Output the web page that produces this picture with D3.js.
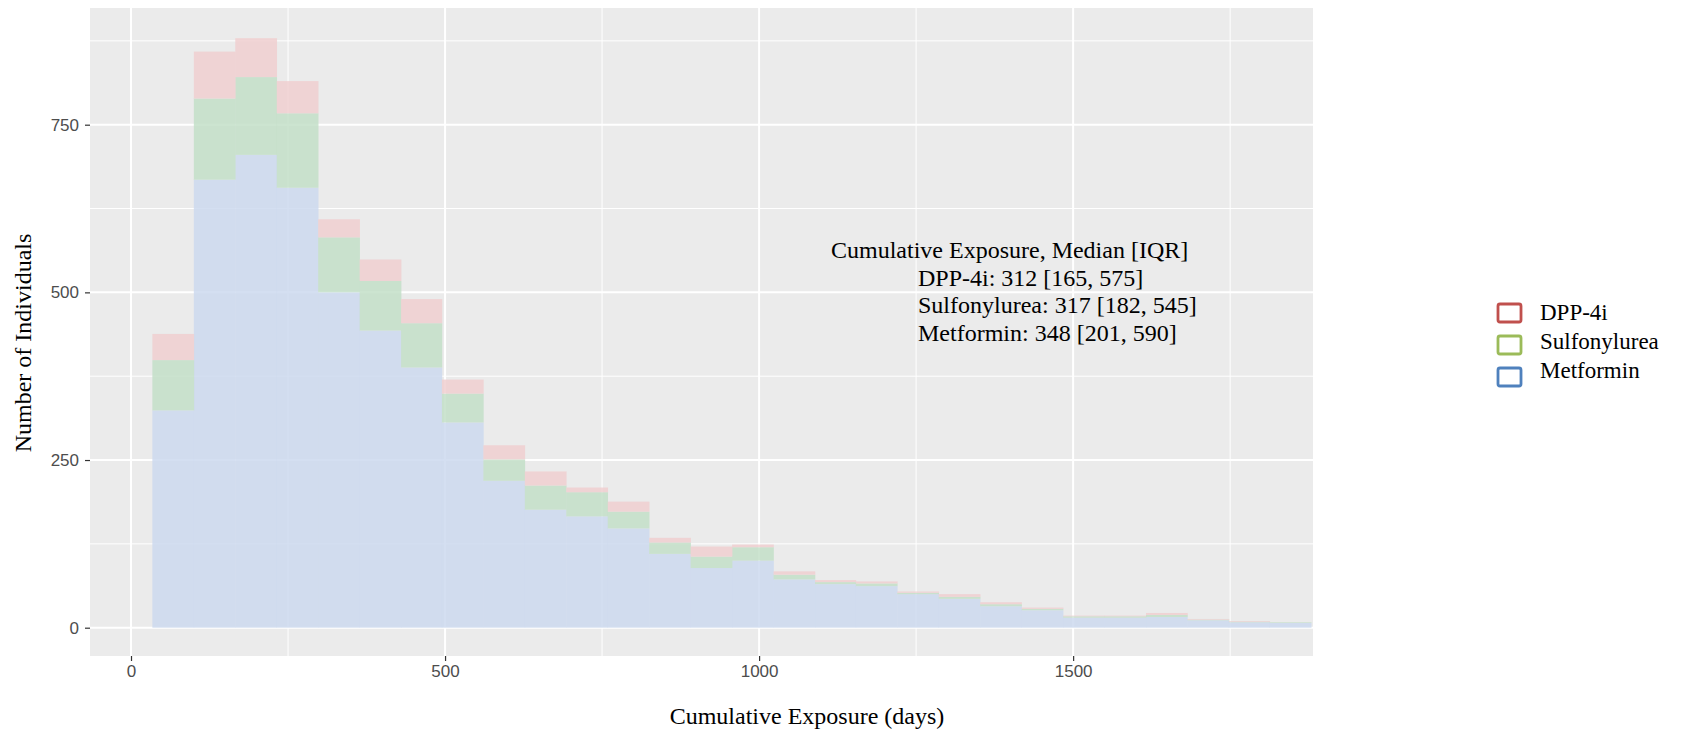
<!DOCTYPE html>
<html>
<head>
<meta charset="utf-8">
<script src="https://cdn.jsdelivr.net/npm/d3@7"></script>
<style>
  body { margin: 0; background: #fff; }
</style>
</head>
<body>
<div id="chart"></div>
<script>
const width = 1681;
const height = 734;
const panel = { left: 90, right: 1313, top: 8, bottom: 656 };

// left edges of the histogram bins (days), last value is the right edge of the last bin
const binEdges = [34, 100, 166, 232, 298, 364, 430, 495, 561, 627, 693, 759, 825, 891, 957, 1023, 1089, 1154, 1220, 1286, 1352, 1418, 1484, 1550, 1616, 1682, 1748, 1813, 1879];

// counts per bin
const metformin = [324, 668, 705, 656, 500, 443, 388, 306, 219, 176, 166, 148, 110, 89, 100, 72, 65, 62, 50, 43, 32, 26, 15, 15, 16, 11, 8, 7];
const sulfonylurea = [75, 121, 116, 111, 82, 74, 66, 43, 32, 36, 36, 25, 17, 17, 20, 7, 3, 4, 2, 3, 3, 2, 2, 2, 3, 1, 1, 1];
const dpp4i = [39, 70, 58, 48, 27, 32, 36, 21, 21, 21, 7, 15, 7, 15, 4, 5, 3, 3, 2, 4, 3, 2, 1, 1, 3, 1, 1, 0];

const xMajor = [0, 500, 1000, 1500];
const xMinor = [250, 750, 1250, 1750];
const yMajor = [0, 250, 500, 750];
const yMinor = [125, 375, 625, 875];

const legendItems = ['DPP-4i', 'Sulfonylurea', 'Metformin'];
const annotationLines = [
  'Cumulative Exposure, Median [IQR]',
  'DPP-4i: 312 [165, 575]',
  'Sulfonylurea: 317 [182, 545]',
  'Metformin: 348 [201, 590]'
];

const fills = { 'Metformin': '#ccd9ef', 'Sulfonylurea': '#c3dfc8', 'DPP-4i': '#f0cfd0' };
const strokes = { 'DPP-4i': '#c0504d', 'Sulfonylurea': '#9bbb59', 'Metformin': '#4f81bd' };

const serif = '"Liberation Serif", "Times New Roman", serif';
const sans = '"Liberation Sans", Arial, sans-serif';

const rows = metformin.map((m, i) => ({
  x0: binEdges[i],
  x1: binEdges[i + 1],
  'Metformin': m,
  'Sulfonylurea': sulfonylurea[i],
  'DPP-4i': dpp4i[i]
}));

const svg = d3.select('#chart')
  .append('svg')
  .attr('width', width)
  .attr('height', height)
  .style('font-family', serif);

const x = d3.scaleLinear()
  .domain([-65.3, 1881.9])
  .range([panel.left, panel.right]);

const y = d3.scaleLinear()
  .domain([-42.2, 924])
  .range([panel.bottom, panel.top]);

// panel background and grid
svg.append('rect')
  .attr('x', panel.left)
  .attr('y', panel.top)
  .attr('width', panel.right - panel.left)
  .attr('height', panel.bottom - panel.top)
  .attr('fill', '#ebebeb');

svg.append('clipPath')
  .attr('id', 'clip')
  .append('rect')
  .attr('x', panel.left)
  .attr('y', panel.top)
  .attr('width', panel.right - panel.left)
  .attr('height', panel.bottom - panel.top);

const grid = svg.append('g').attr('stroke', '#fff');

grid.selectAll('.ymin').data(yMinor).join('line')
  .attr('x1', panel.left).attr('x2', panel.right)
  .attr('y1', d => y(d)).attr('y2', d => y(d))
  .attr('stroke-width', 1);
grid.selectAll('.xmin').data(xMinor).join('line')
  .attr('y1', panel.top).attr('y2', panel.bottom)
  .attr('x1', d => x(d)).attr('x2', d => x(d))
  .attr('stroke-width', 1);
grid.selectAll('.ymaj').data(yMajor).join('line')
  .attr('x1', panel.left).attr('x2', panel.right)
  .attr('y1', d => y(d)).attr('y2', d => y(d))
  .attr('stroke-width', 2);
grid.selectAll('.xmaj').data(xMajor).join('line')
  .attr('y1', panel.top).attr('y2', panel.bottom)
  .attr('x1', d => x(d)).attr('x2', d => x(d))
  .attr('stroke-width', 2);

// stacked histogram, Metformin at the bottom
const stack = d3.stack().keys(['Metformin', 'Sulfonylurea', 'DPP-4i'])(rows);

svg.append('g')
  .attr('clip-path', 'url(#clip)')
  .selectAll('g')
  .data(stack)
  .join('g')
  .attr('fill', d => fills[d.key])
  .attr('fill-opacity', 0.85)
  .selectAll('rect')
  .data(d => d)
  .join('rect')
  .attr('x', d => x(d.data.x0))
  .attr('width', d => x(d.data.x1) - x(d.data.x0) + 0.3)
  .attr('y', d => y(d[1]))
  .attr('height', d => y(d[0]) - y(d[1]));

// axes
const xAxisG = svg.append('g')
  .attr('transform', `translate(0, ${panel.bottom})`)
  .call(d3.axisBottom(x).tickValues(xMajor).tickFormat(d3.format('d')).tickSize(5).tickPadding(4));

const yAxisG = svg.append('g')
  .attr('transform', `translate(${panel.left}, 0)`)
  .call(d3.axisLeft(y).tickValues(yMajor).tickFormat(d3.format('d')).tickSize(5).tickPadding(6));

[xAxisG, yAxisG].forEach(g => {
  g.select('.domain').remove();
  g.selectAll('.tick line').attr('stroke', '#333').attr('stroke-width', 1.2);
  g.selectAll('.tick text')
    .attr('fill', '#4d4d4d')
    .style('font-family', sans)
    .style('font-size', '17px');
});

// axis titles
svg.append('text')
  .text('Cumulative Exposure (days)')
  .attr('x', 807)
  .attr('y', 724)
  .attr('text-anchor', 'middle')
  .style('font-size', '24px');

svg.append('text')
  .text('Number of Individuals')
  .attr('transform', 'translate(31, 343) rotate(-90)')
  .attr('text-anchor', 'middle')
  .style('font-size', '24px');

// median annotation
svg.append('g')
  .selectAll('text')
  .data(annotationLines)
  .join('text')
  .text(d => d)
  .attr('x', (d, i) => i === 0 ? 831 : 918)
  .attr('y', (d, i) => 258 + i * 27.5)
  .style('font-size', '24px');

// LEGEND
const legend = svg.append('g');

legend.selectAll('rect')
  .data(legendItems)
  .join('rect')
  .attr('x', 1498)
  .attr('y', (d, i) => 304 + i * 32)
  .attr('width', 23)
  .attr('height', 18)
  .attr('rx', 2)
  .attr('fill', '#fff')
  .attr('stroke', d => strokes[d])
  .attr('stroke-width', 2.8);

legend.selectAll('text')
  .data(legendItems)
  .join('text')
  .text(d => d)
  .attr('x', 1540)
  .attr('y', (d, i) => 320 + i * 29)
  .style('font-size', '23px');
</script>
</body>
</html>
